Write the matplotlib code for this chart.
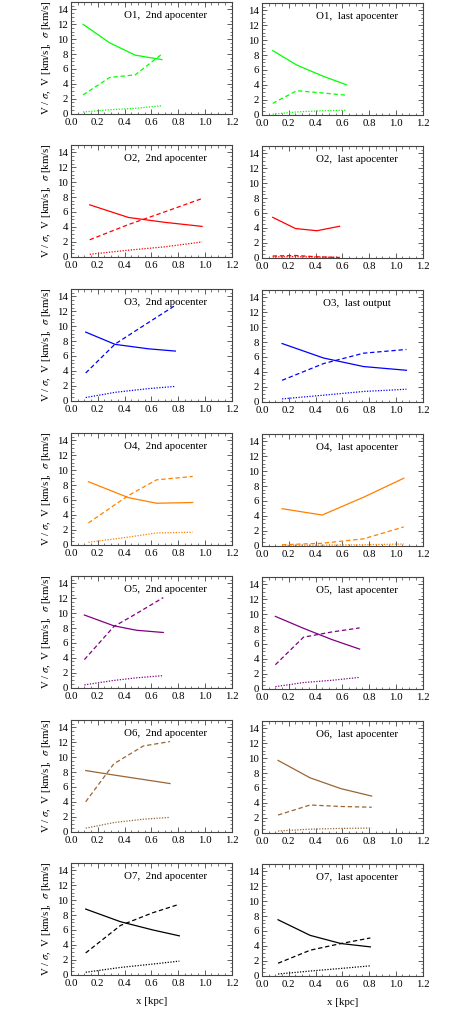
import matplotlib
matplotlib.use("Agg")
import matplotlib.pyplot as plt
from matplotlib.ticker import MultipleLocator, FormatStrFormatter

plt.rcParams['font.family'] = ['Liberation Serif', 'DejaVu Serif']
plt.rcParams['mathtext.fontset'] = 'stix'

names = ['O1', 'O2', 'O3', 'O4', 'O5', 'O6', 'O7']
labels_2nd = ['2nd apocenter'] * 7
labels_last = ['last apocenter', 'last apocenter', 'last output', 'last apocenter',
               'last apocenter', 'last apocenter', 'last apocenter']
colors = ['#00ff00', '#ff0000', '#0000ff', '#ff8000', '#800080', '#996633', '#000000']

# 2nd apocenter: radius, sigma (solid), V (dashed), V/sigma (dotted)
x_2nd = [[0.09, 0.29, 0.48, 0.68],
         [0.14, 0.43, 0.70, 0.98],
         [0.11, 0.33, 0.58, 0.78],
         [0.13, 0.43, 0.64, 0.91],
         [0.10, 0.32, 0.49, 0.69],
         [0.11, 0.32, 0.54, 0.74],
         [0.11, 0.37, 0.61, 0.81]]
sigma_2nd = [[12.0, 9.5, 7.85, 7.25],
             [6.95, 5.25, 4.6, 4.05],
             [9.2, 7.55, 6.95, 6.65],
             [8.45, 6.3, 5.55, 5.65],
             [9.75, 8.3, 7.7, 7.4],
             [8.2, 7.6, 7.0, 6.45],
             [8.8, 7.1, 6.0, 5.2]]
v_2nd = [[2.5, 4.85, 5.2, 8.0],
         [2.25, 4.3, 6.0, 7.8],
         [3.7, 7.6, 10.5, 12.8],
         [2.9, 6.6, 8.7, 9.15],
         [3.75, 8.2, 9.95, 12.1],
         [4.0, 9.1, 11.5, 12.1],
         [2.9, 6.6, 8.3, 9.45]]
ratio_2nd = [[0.2, 0.5, 0.7, 1.05],
             [0.3, 0.85, 1.3, 1.95],
             [0.4, 1.1, 1.6, 1.9],
             [0.3, 1.0, 1.55, 1.65],
             [0.35, 0.95, 1.3, 1.6],
             [0.45, 1.2, 1.65, 1.9],
             [0.3, 0.95, 1.4, 1.8]]

# last apocenter / last output
x_last = [[0.08, 0.26, 0.45, 0.63],
          [0.08, 0.25, 0.41, 0.58],
          [0.15, 0.46, 0.76, 1.08],
          [0.15, 0.45, 0.76, 1.06],
          [0.10, 0.31, 0.52, 0.73],
          [0.12, 0.36, 0.59, 0.82],
          [0.12, 0.36, 0.59, 0.81]]
sigma_last = [[8.6, 6.65, 5.2, 4.0],
              [5.4, 3.9, 3.6, 4.2],
              [7.8, 5.85, 4.7, 4.2],
              [4.95, 4.1, 6.5, 9.05],
              [9.7, 8.1, 6.6, 5.3],
              [9.7, 7.35, 5.9, 4.9],
              [7.5, 5.4, 4.3, 3.85]]
v_last = [[1.5, 3.2, 2.9, 2.6],
          [0.2, 0.27, 0.1, 0.0],
          [2.85, 5.1, 6.5, 7.0],
          [0.1, 0.3, 0.9, 2.5],
          [3.2, 6.9, 7.6, 8.15],
          [2.35, 3.7, 3.5, 3.4],
          [1.65, 3.4, 4.3, 5.05]]
ratio_last = [[0.05, 0.35, 0.5, 0.58],
              [0.08, 0.12, 0.05, 0.02],
              [0.35, 0.85, 1.35, 1.65],
              [0.02, 0.05, 0.1, 0.2],
              [0.25, 0.8, 1.1, 1.5],
              [0.2, 0.45, 0.55, 0.6],
              [0.2, 0.6, 0.95, 1.3]]

fig = plt.figure(figsize=(4.69, 10.11), dpi=100)
W, H = 469.0, 1011.0
row_tops = [2, 145, 289, 433, 576, 720, 863]
ax_h = 111.5
col_left = [71, 262]
ax_w = 160.5

frame_col = '#444444'
fs = 7.8


def style_axis(ax):
    ax.set_xlim(0, 1.2)
    ax.set_ylim(0, 15)
    ax.xaxis.set_major_locator(MultipleLocator(0.2))
    ax.xaxis.set_minor_locator(MultipleLocator(0.05))
    ax.yaxis.set_minor_locator(MultipleLocator(0.5))
    ax.set_yticks(range(0, 15, 2))
    ax.tick_params(which='both', direction='in', top=True, right=True,
                   color=frame_col, labelsize=fs)
    ax.tick_params(axis='x', pad=3.5)
    ax.tick_params(axis='y', pad=2)
    ax.tick_params(which='major', length=3.5, width=0.6)
    ax.tick_params(which='minor', length=1.8, width=0.5)
    ax.xaxis.set_major_formatter(FormatStrFormatter('%.1f'))
    for sp in ax.spines.values():
        sp.set_color(frame_col)
        sp.set_linewidth(0.8)


def draw_panel(ax, xs, sig, v, ratio, col, title):
    ax.plot(xs, sig, color=col, lw=0.9, ls='-')
    ax.plot(xs, v, color=col, lw=0.9, ls=(0, (3.5, 2.2)))
    ax.plot(xs, ratio, color=col, lw=0.9, ls=(0, (1, 1.2)))
    ax.text(0.59, 0.875, title, transform=ax.transAxes, ha='center', va='center',
            fontsize=fs)


for i in range(7):
    for c in range(2):
        top = row_tops[i] + (1 if c == 1 else 0)
        ax = fig.add_axes([col_left[c] / W, 1 - (top + ax_h) / H, ax_w / W, ax_h / H])
        style_axis(ax)
        if c == 0:
            draw_panel(ax, x_2nd[i], sigma_2nd[i], v_2nd[i], ratio_2nd[i], colors[i],
                       names[i] + ',  ' + labels_2nd[i])
            ax.set_ylabel(r'V / $\sigma$,  V [km/s],  $\sigma$ [km/s]', fontsize=fs,
                          labelpad=3)
        else:
            draw_panel(ax, x_last[i], sigma_last[i], v_last[i], ratio_last[i], colors[i],
                       names[i] + ',  ' + labels_last[i])
        if i == 6:
            ax.set_xlabel('x [kpc]', fontsize=fs, labelpad=6)

fig.savefig('out.png', dpi=100)
